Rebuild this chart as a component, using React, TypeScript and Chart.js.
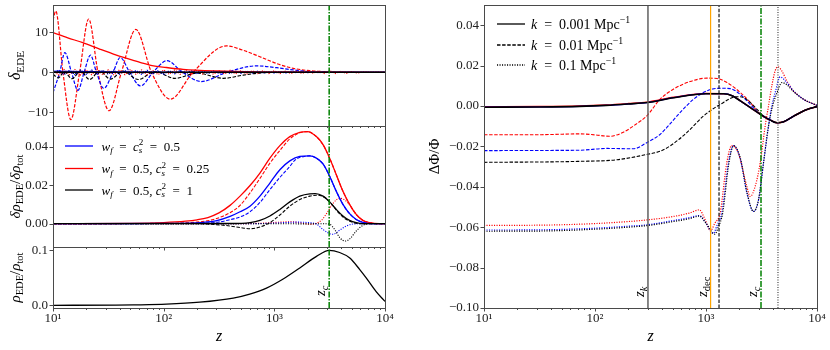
import React, { useEffect, useRef } from 'react';
import { Chart, registerables } from 'chart.js';
Chart.register(...registerables);

const W = 830;
const H = 350;
const FONT = '"Liberation Serif", "Times New Roman", serif';

// ---------- axis ticks ----------
const xMajor = [10, 100, 1000, 10000];
const xLabels = ['10¹', '10²', '10³', '10⁴'];
const xMinor = [20, 30, 40, 50, 60, 70, 80, 90, 200, 300, 400, 500, 600, 700, 800, 900, 2000, 3000, 4000, 5000, 6000, 7000, 8000, 9000];

const tlYTicks = [-10, 0, 10];
const tlYLabels = ['−10', '0', '10'];
const tlYRange = [-13.4, 16.8];

const mlYTicks = [0, 0.02, 0.04];
const mlYLabels = ['0.00', '0.02', '0.04'];
const mlYRange = [-0.0121, 0.0507];

const blYTicks = [0, 0.1];
const blYLabels = ['0.0', '0.1'];
const blYRange = [-0.0047, 0.106];

const rYTicks = [-0.1, -0.08, -0.06, -0.04, -0.02, 0, 0.02, 0.04];
const rYLabels = ['−0.10', '−0.08', '−0.06', '−0.04', '−0.02', '0.00', '0.02', '0.04'];
const rYRange = [-0.1, 0.05];

// ---------- characteristic redshifts ----------
const zK = 300;
const zDec = 1100;
const zDashLine = 1310;
const zC = 3130;
const zDotLine = 4450;

// ---------- top-left: delta_EDE ----------
const zFine = [10, 11.2, 12.6, 14.1, 15.8, 17.8, 20, 22.4, 25.1, 28.2, 31.6, 35.5, 39.8, 44.7, 50.1, 56.2, 63.1, 70.8, 79.4, 89.1, 100, 112, 126, 141, 158, 178, 200, 224, 251, 282, 316, 355, 398, 447, 501, 562, 631, 708, 794, 891, 1000, 1122, 1259, 1413, 1585, 1778, 1995, 2239, 2512, 2818, 3162, 3548, 3981, 4467, 5012, 5623, 6310, 7079, 7943, 8913, 10000];

const tlRedSolidZ = [10, 13.6, 18.6, 26.4, 37.4, 53, 74.8, 106, 150, 300, 700, 2000, 10000];
const tlRedSolidV = [9.9, 8.6, 7.4, 5.8, 4.3, 3.0, 1.8, 1.2, 0.74, 0.33, 0.1, 0.02, 0];

const tlRedDashZ = [10, 10.6, 12.3, 14.5, 17.4, 21, 25.5, 32.1, 41.5, 56, 77.6, 115, 184, 370, 522, 740, 1047, 1479, 2089, 2951, 5012, 10000];
const tlRedDashV = [13, 15.3, 0, -11.8, 0, 13.3, 0, -9.6, 0, 10.7, 0, -6.7, 0, 6.6, 5.5, 3.9, 2.2, 1.0, 0.4, 0.15, 0.03, 0];

const tlBlueDashZ = [10, 11.5, 12.8, 14.7, 16.8, 19.1, 21.8, 24.7, 28.7, 34.9, 40.5, 49.3, 61.7, 80.2, 107, 148, 219, 370, 690, 1047, 1479, 2089, 3162, 10000];
const tlBlueDashV = [-5.1, 0, 4.9, 0, -4.5, 0, 4.3, 0, -4.0, 0, 3.7, 0, -3.4, 0, 2.9, 0, -2.3, 0, 1.6, 1.15, 0.6, 0.15, 0.02, 0];

const tlBlackDashZ = [10, 11.2, 12.6, 14.8, 17.8, 21.4, 26.3, 33.1, 42.7, 58.9, 83.2, 126, 200, 345, 525, 795, 1585, 10000];
const tlBlackDashV = [-0.5, -1.4, 0.2, -1.6, 0.3, -1.8, 0.3, -1.7, 0.3, -1.8, 0.2, -1.5, -0.2, -1.5, -0.7, -0.1, 0, 0];

const tlBlueSolidZ = [10, 30, 100, 1000, 10000];
const tlBlueSolidV = [0.3, 0.15, 0.05, 0, 0];
const tlBlackSolidZ = [10, 100, 1000, 10000];
const tlBlackSolidV = [0.05, 0, 0, 0];

const tlRedDotV = [0.6, -0.7, 0.7, -0.6, 0.7, -0.7, 0.6, -0.6, 0.7, -0.6,
  0.6, -0.7, 0.6, -0.6, 0.7, -0.5, 0.6, -0.6, 0.5, -0.6,
  0.6, -0.5, 0.6, -0.5, 0.5, -0.5, 0.5, -0.4, 0.5, -0.5,
  0.4, -0.4, 0.5, -0.4, 0.4, -0.4, 0.4, -0.3, 0.4, -0.3,
  0.4, -0.3, 0.3, -0.3, 0.3, -0.3, 0.3, -0.2, 0.3, -0.3,
  0.4, -0.3, 0.3, -0.3, 0.2, -0.2, 0.1, 0, 0, 0, 0];
const tlBlueDotV = [-0.5, 0.6, -0.6, 0.5, -0.6, 0.6, -0.5, 0.6, -0.6, 0.5,
  -0.5, 0.6, -0.5, 0.5, -0.6, 0.5, -0.5, 0.5, -0.5, 0.4,
  -0.5, 0.4, -0.4, 0.5, -0.4, 0.4, -0.4, 0.4, -0.3, 0.4,
  -0.3, 0.3, -0.3, 0.3, -0.3, 0.3, -0.2, 0.3, -0.2, 0.2,
  -0.2, 0.2, -0.2, 0.2, -0.1, 0.2, -0.1, 0.1, -0.1, 0.1,
  0, 0, 0, 0, 0, 0, 0, 0, 0, 0, 0];
const tlBlackDotV = [-0.4, 0.3, -0.4, 0.3, -0.4, 0.3, -0.3, 0.3, -0.4, 0.3,
  -0.3, 0.3, -0.3, 0.3, -0.3, 0.2, -0.3, 0.2, -0.3, 0.2,
  -0.2, 0.2, -0.2, 0.2, -0.2, 0.2, -0.2, 0.1, -0.2, 0.1,
  -0.1, 0.1, -0.1, 0.1, -0.1, 0.1, -0.1, 0, 0, 0,
  0, 0, 0, 0, 0, 0, 0, 0, 0, 0, 0, 0, 0, 0, 0, 0, 0, 0, 0, 0, 0];

// ---------- middle-left: delta rho_EDE / delta rho_tot ----------
const mlRedSolidZ = [10, 50, 100, 158, 200, 251, 316, 398, 490, 603, 741, 912, 1122, 1380, 1698, 1995, 2399, 2754, 3162, 3631, 4169, 4786, 5495, 6310, 7244, 8913, 10000];
const mlRedSolidV = [0, 0.0002, 0.0006, 0.0013, 0.002, 0.0032, 0.0056, 0.0095, 0.0143, 0.0198, 0.0263, 0.034, 0.0405, 0.0452, 0.0474, 0.0478, 0.0452, 0.041, 0.034, 0.0254, 0.0168, 0.010, 0.0048, 0.0017, 0.0005, 0, 0];
const mlRedDashZ = [10, 100, 200, 282, 398, 490, 603, 741, 912, 1122, 1380, 1698, 1995, 2399, 2754, 3162, 3631, 4169, 4786, 5495, 6310, 7244, 8913, 10000];
const mlRedDashV = [0, 0.0002, 0.0008, 0.0022, 0.0057, 0.0095, 0.016, 0.0235, 0.0314, 0.038, 0.044, 0.0472, 0.0478, 0.0452, 0.041, 0.034, 0.0254, 0.0168, 0.010, 0.0048, 0.0017, 0.0005, 0, 0];
const mlRedDotZ = [10, 501, 794, 1122, 1380, 1660, 2089, 2344, 2692, 3020, 3388, 3890, 4266, 4786, 5495, 6310, 7244, 8913, 10000];
const mlRedDotV = [0, 0, 0.0003, 0.0008, 0.001, 0.0006, -0.0003, 0.0001, 0.002, 0.006, 0.0105, 0.0132, 0.0125, 0.0098, 0.0048, 0.0017, 0.0005, 0, 0];

const mlBlueSolidZ = [10, 158, 214, 302, 398, 490, 603, 741, 912, 1122, 1380, 1698, 2089, 2399, 2754, 3162, 3631, 4169, 4786, 5495, 6310, 7762, 10000];
const mlBlueSolidV = [0, 0.0002, 0.0006, 0.0016, 0.0038, 0.0062, 0.0091, 0.0143, 0.0211, 0.028, 0.0326, 0.0349, 0.0352, 0.034, 0.031, 0.0246, 0.0168, 0.010, 0.0052, 0.0022, 0.0007, 0, 0];
const mlBlueDashZ = [10, 200, 316, 398, 490, 603, 741, 912, 1122, 1380, 1549, 1862, 2089, 2399, 2754, 3162, 3631, 4169, 4786, 5495, 6310, 7762, 10000];
const mlBlueDashV = [0, 0.0002, 0.0009, 0.0021, 0.0035, 0.0062, 0.011, 0.0177, 0.024, 0.0297, 0.0332, 0.0349, 0.0352, 0.034, 0.031, 0.0246, 0.0168, 0.010, 0.0052, 0.0022, 0.0007, 0, 0];
const mlBlueDotZ = [10, 631, 1000, 1585, 1995, 2399, 2754, 3162, 3388, 3890, 4467, 5129, 6310, 10000];
const mlBlueDotV = [0, 0, 0.0003, 0.0008, 0.0006, -0.0002, -0.003, -0.0052, -0.0055, -0.0034, -0.0012, -0.0002, 0, 0];

const mlBlackSolidZ = [10, 398, 603, 741, 912, 1122, 1380, 1698, 2089, 2344, 2754, 3162, 3631, 4169, 4786, 5495, 6310, 10000];
const mlBlackSolidV = [0, 0.0001, 0.0006, 0.0017, 0.004, 0.0074, 0.0113, 0.0143, 0.0155, 0.0156, 0.0143, 0.0113, 0.0074, 0.004, 0.0017, 0.0005, 0, 0];
const mlBlackDashZ = [10, 200, 282, 398, 490, 603, 741, 912, 1122, 1380, 1698, 2089, 2455, 2884, 3311, 3802, 4365, 5012, 6026, 10000];
const mlBlackDashV = [0, 0, -0.0004, -0.0012, -0.002, -0.0026, -0.0017, 0.0005, 0.0045, 0.0091, 0.0125, 0.0143, 0.0148, 0.0134, 0.010, 0.0057, 0.0026, 0.0009, 0, 0];
const mlBlackDotZ = [10, 1000, 1995, 2818, 3162, 3548, 3890, 4365, 4786, 5495, 6310, 7244, 10000];
const mlBlackDotV = [0, 0, -0.0001, 0, -0.0003, -0.0034, -0.0072, -0.009, -0.008, -0.0038, -0.0009, 0, 0];

// ---------- bottom-left: rho_EDE / rho_tot ----------
const blRhoZ = [10, 37, 53, 106, 212, 425, 600, 849, 1202, 1698, 2404, 3133, 3890, 4808, 5916, 6761, 8318, 10000];
const blRhoV = [0.0002, 0.0005, 0.0009, 0.0022, 0.0058, 0.0133, 0.0206, 0.0315, 0.048, 0.068, 0.089, 0.1, 0.096, 0.086, 0.065, 0.05, 0.025, 0.0073];

// ---------- right: Delta Phi / Phi ----------
const rSolidZ = [10, 31.6, 72.4, 126, 200, 295, 513, 1000, 1445, 1738, 2042, 2512, 3090, 3802, 4365, 5012, 6166, 8128, 10000];
const rBlackSolidV = [-0.0006, -0.0005, -0.0002, 0.0003, 0.001, 0.0017, 0.0041, 0.0061, 0.0061, 0.005, 0.0025, -0.0008, -0.0041, -0.007, -0.0083, -0.0078, -0.005, -0.0017, -0.0003];
const rRedSolidV = [-0.0004, -0.0003, 0, 0.0005, 0.0012, 0.0019, 0.0043, 0.0062, 0.0061, 0.005, 0.0025, -0.0008, -0.0041, -0.007, -0.0083, -0.0078, -0.005, -0.0017, -0.0003];
const rBlueSolidV = [-0.0006, -0.0005, -0.0002, 0.0003, 0.001, 0.0017, 0.0041, 0.0061, 0.0061, 0.005, 0.0025, -0.0008, -0.0041, -0.007, -0.0083, -0.0078, -0.005, -0.0017, -0.0003];

const rRedDashZ = [10, 31.6, 72.4, 100, 135, 180, 234, 292, 385, 508, 719, 1016, 1259, 1549, 2042, 2512, 2884, 3311, 3802, 4365, 5012, 6166, 8128, 10000];
const rRedDashV = [-0.0142, -0.0142, -0.0138, -0.0143, -0.015, -0.013, -0.009, -0.005, 0.0033, 0.0083, 0.0121, 0.0138, 0.0136, 0.0116, 0.0066, 0.0017, -0.0025, -0.0053, -0.007, -0.0083, -0.0078, -0.005, -0.0017, -0.0003];
const rBlueDashZ = [10, 31.6, 72.4, 127, 221, 292, 385, 428, 583, 771, 1016, 1340, 1652, 2032, 2500, 3076, 3784, 4365, 5012, 6166, 8128, 10000];
const rBlueDashV = [-0.0221, -0.022, -0.0219, -0.021, -0.0212, -0.0182, -0.0141, -0.0116, -0.0033, 0.0033, 0.0075, 0.0088, 0.0086, 0.0058, 0.0008, -0.0041, -0.007, -0.0083, -0.0078, -0.005, -0.0017, -0.0003];
const rBlackDashZ = [10, 72.4, 158, 292, 385, 474, 671, 948, 1343, 1897, 2188, 2512, 2884, 3311, 3802, 4365, 5012, 6166, 8128, 10000];
const rBlackDashV = [-0.0279, -0.0274, -0.0266, -0.024, -0.0224, -0.0198, -0.0132, -0.005, 0.0008, 0.0046, 0.0041, 0.0017, -0.0017, -0.005, -0.007, -0.0083, -0.0078, -0.005, -0.0017, -0.0003];

const rRedDotZ = [10, 31.6, 100, 200, 295, 508, 708, 871, 977, 1096, 1202, 1340, 1538, 1706, 1950, 2333, 2500, 2773, 3076, 3412, 3656, 3917, 4198, 4436, 4819, 5346, 6138, 7568, 10000];
const rRedDotV = [-0.0591, -0.059, -0.0582, -0.0572, -0.0564, -0.0547, -0.053, -0.0514, -0.056, -0.0618, -0.058, -0.053, -0.0282, -0.0196, -0.0232, -0.0398, -0.0448, -0.0398, -0.0282, -0.01, 0, 0.01, 0.0174, 0.0194, 0.0174, 0.0124, 0.0075, 0.0033, 0.0003];
const rBlueDotZ = [10, 31.6, 100, 200, 295, 508, 708, 871, 977, 1167, 1259, 1387, 1592, 1766, 2032, 2333, 2679, 2972, 3296, 3656, 3917, 4198, 4656, 5346, 6138, 7568, 10000];
const rBlueDotV = [-0.0614, -0.0613, -0.0605, -0.0595, -0.0588, -0.0567, -0.0553, -0.0542, -0.0572, -0.063, -0.059, -0.053, -0.0282, -0.0196, -0.026, -0.043, -0.0522, -0.0465, -0.0282, -0.01, 0, 0.0066, 0.0144, 0.0116, 0.0075, 0.0033, 0.0003];
const rBlackDotZ = [10, 31.6, 100, 200, 295, 508, 708, 871, 1000, 1202, 1288, 1413, 1611, 1778, 2042, 2344, 2679, 2972, 3296, 3656, 3981, 4365, 4819, 5346, 6138, 7568, 10000];
const rBlackDotV = [-0.062, -0.0619, -0.061, -0.06, -0.0592, -0.0572, -0.0558, -0.0545, -0.058, -0.0635, -0.06, -0.053, -0.028, -0.0196, -0.026, -0.043, -0.0522, -0.0465, -0.0282, -0.01, 0, 0.0066, 0.0116, 0.0105, 0.0072, 0.0033, 0.0003];

// ---------- styling ----------
const RED = '#ff0000';
const BLUE = '#0000ff';
const BLACK = '#000000';
const GREEN = '#008000';
const ORANGE = '#ffa500';
const GRAY = '#606060';
const DASH = [3.5, 1.6];
const DOT = [1.1, 1.4];
const DASHDOT = [6, 1.6, 1.3, 1.6];

type Tok = { t: string; it?: boolean; lv?: number; st?: boolean };
const I = (t: string): Tok => ({ t, it: true });
const R = (t: string): Tok => ({ t });
const Sub = (t: string, it = false): Tok => ({ t, it, lv: -1 });
const Sup = (t: string, it = false, st = false): Tok => ({ t, it, lv: 1, st });

function tokFont(tok: Tok, size: number) {
  const s = tok.lv ? size * 0.7 : size;
  return `${tok.it ? 'italic ' : ''}${s}px ${FONT}`;
}

function drawMath(ctx: CanvasRenderingContext2D, toks: Tok[], x: number, y: number, size: number, align = 'left', rot = 0, color = '#000') {
  ctx.save();
  ctx.translate(x, y);
  ctx.rotate(rot);
  ctx.fillStyle = color;
  ctx.textBaseline = 'alphabetic';
  ctx.textAlign = 'left';
  let cx = 0;
  let prevStart = 0;
  let prevW = 0;
  const items: { tok: Tok; start: number; dy: number; font: string }[] = [];
  for (const tok of toks) {
    const font = tokFont(tok, size);
    ctx.font = font;
    const w = ctx.measureText(tok.t).width;
    let start: number;
    if (tok.st) {
      start = prevStart;
      cx = prevStart + Math.max(prevW, w);
    } else {
      start = cx;
      cx += w;
    }
    const dy = tok.lv === -1 ? size * 0.22 : tok.lv === 1 ? -size * 0.4 : 0;
    items.push({ tok, start, dy, font });
    prevStart = start;
    prevW = w;
  }
  const off = align === 'center' ? -cx / 2 : align === 'right' ? -cx : 0;
  for (const it of items) {
    ctx.font = it.font;
    ctx.fillText(it.tok.t, off + it.start, it.dy);
  }
  ctx.restore();
}

const pts = (z: number[], v: number[]) => z.map((x, i) => ({ x, y: v[i] }));

function line(z: number[], v: number[], color: string, dash: number[] = [], width = 1, smooth = true) {
  return {
    data: pts(z, v),
    borderColor: color,
    borderDash: dash,
    borderWidth: width,
    pointRadius: 0,
    fill: false,
    tension: smooth ? 0.4 : 0,
    cubicInterpolationMode: smooth ? 'monotone' : 'default',
  };
}

function vline(z: number, range: number[], color: string, dash: number[], width: number) {
  return {
    data: [{ x: z, y: range[0] }, { x: z, y: range[1] }],
    borderColor: color,
    borderDash: dash,
    borderWidth: width,
    pointRadius: 0,
    fill: false,
    tension: 0,
  };
}

type Area = { l: number; t: number; r: number; b: number };

function makeOptions(area: Area, yRange: number[], yTicks: number[], yLabels: string[], showX: boolean) {
  const tickFont = { family: FONT, size: 13 };
  const yW = 48;
  const xH = showX ? 22 : 0;
  return {
    responsive: false,
    animation: false,
    events: [],
    layout: { padding: { left: area.l - yW, top: area.t, right: W - area.r, bottom: H - area.b - xH } },
    plugins: { legend: { display: false }, tooltip: { enabled: false } },
    scales: {
      x: {
        type: 'logarithmic',
        min: 10,
        max: 10000,
        afterBuildTicks: (s: any) => { s.ticks = xMajor.map((v) => ({ value: v, major: true })); },
        afterFit: (s: any) => { s.height = xH; s.paddingLeft = 0; s.paddingRight = 0; s.paddingTop = 0; s.paddingBottom = 0; },
        ticks: { display: showX, autoSkip: false, maxRotation: 0, padding: 3, color: '#222', font: tickFont, callback: (_v: any, i: number) => xLabels[i] },
        grid: { display: false, drawTicks: false },
        border: { display: false },
      },
      y: {
        type: 'linear',
        min: yRange[0],
        max: yRange[1],
        afterBuildTicks: (s: any) => { s.ticks = yTicks.map((v) => ({ value: v })); },
        afterFit: (s: any) => { s.width = yW; s.paddingLeft = 0; s.paddingRight = 0; s.paddingTop = 0; s.paddingBottom = 0; },
        ticks: { autoSkip: false, padding: 5, color: '#222', font: tickFont, callback: (_v: any, i: number) => yLabels[i] },
        grid: { display: false, drawTicks: false },
        border: { display: false },
      },
    },
  };
}

function drawFrame(chart: any, yTicks: number[]) {
  const ctx: CanvasRenderingContext2D = chart.ctx;
  const { left, right, top, bottom } = chart.chartArea;
  const xs = chart.scales.x;
  const ys = chart.scales.y;
  ctx.save();
  ctx.strokeStyle = '#4a4a4a';
  ctx.lineWidth = 1;
  ctx.strokeRect(Math.round(left) + 0.5, Math.round(top) + 0.5, Math.round(right - left), Math.round(bottom - top));
  ctx.beginPath();
  for (const v of xMajor) {
    const px = Math.round(xs.getPixelForValue(v)) + 0.5;
    ctx.moveTo(px, bottom);
    ctx.lineTo(px, bottom + 3.5);
  }
  for (const v of xMinor) {
    const px = Math.round(xs.getPixelForValue(v)) + 0.5;
    ctx.moveTo(px, bottom);
    ctx.lineTo(px, bottom + 2);
  }
  for (const v of yTicks) {
    const py = Math.round(ys.getPixelForValue(v)) + 0.5;
    ctx.moveTo(left - 3.5, py);
    ctx.lineTo(left, py);
  }
  ctx.stroke();
  ctx.restore();
}

function legendLine(ctx: CanvasRenderingContext2D, x1: number, x2: number, y: number, color: string, dash: number[]) {
  ctx.save();
  ctx.strokeStyle = color;
  ctx.lineWidth = 1.3;
  ctx.setLineDash(dash);
  ctx.beginPath();
  ctx.moveTo(x1, y);
  ctx.lineTo(x2, y);
  ctx.stroke();
  ctx.restore();
}

const titleTL: Tok[] = [I('δ'), Sub('EDE')];
const titleML: Tok[] = [I('δρ'), Sub('EDE'), R('/'), I('δρ'), Sub('tot')];
const titleBL: Tok[] = [I('ρ'), Sub('EDE'), R('/'), I('ρ'), Sub('tot')];
const titleR: Tok[] = [R('ΔΦ/Φ')];
const xTitle: Tok[] = [I('z')];
const labZk: Tok[] = [I('z'), Sub('k', true)];
const labZdec: Tok[] = [I('z'), Sub('dec')];
const labZc: Tok[] = [I('z'), Sub('c', true)];

const legLeft: { color: string; toks: Tok[] }[] = [
  { color: BLUE, toks: [I('w'), Sub('f', true), R('  =  '), I('c'), Sub('s', true), Sup('2', false, true), R('  =  0.5')] },
  { color: RED, toks: [I('w'), Sub('f', true), R('  =  0.5, '), I('c'), Sub('s', true), Sup('2', false, true), R('  =  0.25')] },
  { color: BLACK, toks: [I('w'), Sub('f', true), R('  =  0.5, '), I('c'), Sub('s', true), Sup('2', false, true), R('  =  1')] },
];
const legRight: { dash: number[]; toks: Tok[] }[] = [
  { dash: [], toks: [I('k'), R('  =  0.001 Mpc'), Sup('−1')] },
  { dash: DASH, toks: [I('k'), R('  =  0.01 Mpc'), Sup('−1')] },
  { dash: DOT, toks: [I('k'), R('  =  0.1 Mpc'), Sup('−1')] },
];

const areaTL: Area = { l: 53, t: 5, r: 385, b: 126 };
const areaML: Area = { l: 53, t: 126, r: 385, b: 247 };
const areaBL: Area = { l: 53, t: 247, r: 385, b: 308 };
const areaR: Area = { l: 484, t: 5, r: 817, b: 308 };

const ROT = -Math.PI / 2;

function configTL() {
  return {
    type: 'line',
    data: {
      datasets: [
        vline(zC, tlYRange, GREEN, DASHDOT, 1.5),
        line(tlBlackSolidZ, tlBlackSolidV, BLACK, [], 1.6),
        line(tlBlueSolidZ, tlBlueSolidV, BLUE, [], 1),
        line(tlRedSolidZ, tlRedSolidV, RED, [], 1.3),
        line(zFine, tlBlackDotV, BLACK, DOT, 1.2, false),
        line(zFine, tlBlueDotV, BLUE, DOT, 1.2, false),
        line(zFine, tlRedDotV, RED, DOT, 1.2, false),
        line(tlBlackDashZ, tlBlackDashV, BLACK, DASH, 1.2),
        line(tlBlueDashZ, tlBlueDashV, BLUE, DASH, 1.2),
        line(tlRedDashZ, tlRedDashV, RED, DASH, 1.2),
      ],
    },
    options: makeOptions(areaTL, tlYRange, tlYTicks, tlYLabels, false),
    plugins: [{
      id: 'decorTL',
      afterDraw(chart: any) {
        drawFrame(chart, tlYTicks);
        const ca = chart.chartArea;
        drawMath(chart.ctx, titleTL, 20, (ca.top + ca.bottom) / 2, 16, 'center', ROT);
      },
    }],
  };
}

function configML() {
  return {
    type: 'line',
    data: {
      datasets: [
        vline(zC, mlYRange, GREEN, DASHDOT, 1.5),
        line(mlBlackSolidZ, mlBlackSolidV, BLACK, [], 1.3),
        line(mlBlueSolidZ, mlBlueSolidV, BLUE, [], 1.3),
        line(mlRedSolidZ, mlRedSolidV, RED, [], 1.3),
        line(mlBlackDashZ, mlBlackDashV, BLACK, DASH, 1.1),
        line(mlBlueDashZ, mlBlueDashV, BLUE, DASH, 1.1),
        line(mlRedDashZ, mlRedDashV, RED, DASH, 1.1),
        line(mlBlackDotZ, mlBlackDotV, BLACK, DOT, 1.1),
        line(mlBlueDotZ, mlBlueDotV, BLUE, DOT, 1.1),
        line(mlRedDotZ, mlRedDotV, RED, DOT, 1.1),
      ],
    },
    options: makeOptions(areaML, mlYRange, mlYTicks, mlYLabels, false),
    plugins: [{
      id: 'decorML',
      afterDraw(chart: any) {
        drawFrame(chart, mlYTicks);
        const ctx = chart.ctx;
        const ca = chart.chartArea;
        drawMath(ctx, titleML, 20, (ca.top + ca.bottom) / 2, 15, 'center', ROT);
        const rows = [20, 42.5, 64];
        legLeft.forEach((e, i) => {
          const y = ca.top + rows[i];
          legendLine(ctx, ca.left + 12, ca.left + 40, y, e.color, []);
          drawMath(ctx, e.toks, ca.left + 48.5, y + 4.5, 13);
        });
      },
    }],
  };
}

function configBL() {
  return {
    type: 'line',
    data: {
      datasets: [
        vline(zC, blYRange, GREEN, DASHDOT, 1.5),
        line(blRhoZ, blRhoV, BLACK, [], 1.3),
      ],
    },
    options: makeOptions(areaBL, blYRange, blYTicks, blYLabels, true),
    plugins: [{
      id: 'decorBL',
      afterDraw(chart: any) {
        drawFrame(chart, blYTicks);
        const ctx = chart.ctx;
        const ca = chart.chartArea;
        drawMath(ctx, titleBL, 20, (ca.top + ca.bottom) / 2, 15, 'center', ROT);
        const xc = chart.scales.x.getPixelForValue(zC);
        drawMath(ctx, labZc, xc - 4, ca.bottom - 12, 15, 'left', ROT);
        drawMath(ctx, xTitle, (ca.left + ca.right) / 2, 341, 16, 'center');
      },
    }],
  };
}

function configR() {
  return {
    type: 'line',
    data: {
      datasets: [
        vline(zC, rYRange, GREEN, DASHDOT, 1.5),
        vline(zK, rYRange, GRAY, [], 1.5),
        vline(zDec, rYRange, ORANGE, [], 1.2),
        vline(zDashLine, rYRange, BLACK, DASH, 1.1),
        vline(zDotLine, rYRange, GRAY, DOT, 1.4),
        line(rSolidZ, rBlackSolidV, BLACK, [], 1.6),
        line(rSolidZ, rBlueSolidV, BLUE, [], 1.2),
        line(rSolidZ, rRedSolidV, RED, [], 1.5),
        line(rBlackDashZ, rBlackDashV, BLACK, DASH, 1.1),
        line(rBlueDashZ, rBlueDashV, BLUE, DASH, 1.1),
        line(rRedDashZ, rRedDashV, RED, DASH, 1.1),
        line(rBlackDotZ, rBlackDotV, BLACK, DOT, 1.2),
        line(rBlueDotZ, rBlueDotV, BLUE, DOT, 1.2),
        line(rRedDotZ, rRedDotV, RED, DOT, 1.2),
      ],
    },
    options: makeOptions(areaR, rYRange, rYTicks, rYLabels, true),
    plugins: [{
      id: 'decorR',
      afterDraw(chart: any) {
        drawFrame(chart, rYTicks);
        const ctx = chart.ctx;
        const ca = chart.chartArea;
        const xs = chart.scales.x;
        drawMath(ctx, titleR, 439, (ca.top + ca.bottom) / 2, 15, 'center', ROT);
        drawMath(ctx, xTitle, (ca.left + ca.right) / 2, 341, 16, 'center');
        drawMath(ctx, labZk, xs.getPixelForValue(zK) - 4, ca.bottom - 11, 15, 'left', ROT);
        drawMath(ctx, labZdec, xs.getPixelForValue(zDec) - 4, ca.bottom - 11, 15, 'left', ROT);
        drawMath(ctx, labZc, xs.getPixelForValue(zC) - 4, ca.bottom - 11, 15, 'left', ROT);
        const rows = [19, 40, 60];
        legRight.forEach((e, i) => {
          const y = ca.top + rows[i];
          legendLine(ctx, ca.left + 13, ca.left + 41, y, BLACK, e.dash);
          drawMath(ctx, e.toks, ca.left + 47, y + 4.5, 14);
        });
      },
    }],
  };
}

export default function App() {
  const r1 = useRef<HTMLCanvasElement>(null);
  const r2 = useRef<HTMLCanvasElement>(null);
  const r3 = useRef<HTMLCanvasElement>(null);
  const r4 = useRef<HTMLCanvasElement>(null);
  useEffect(() => {
    const cfgs = [configTL, configML, configBL, configR];
    const refs = [r1, r2, r3, r4];
    const charts = cfgs.map((f, i) => new Chart(refs[i].current as HTMLCanvasElement, f() as any));
    return () => { charts.forEach((c) => c.destroy()); };
  }, []);
  const cs: React.CSSProperties = { position: 'absolute', left: 0, top: 0, width: W, height: H };
  return (
    <div style={{ position: 'fixed', left: 0, top: 0, width: W, height: H, background: '#fff' }}>
      <canvas ref={r1} width={W} height={H} style={cs} />
      <canvas ref={r2} width={W} height={H} style={cs} />
      <canvas ref={r3} width={W} height={H} style={cs} />
      <canvas ref={r4} width={W} height={H} style={cs} />
    </div>
  );
}
